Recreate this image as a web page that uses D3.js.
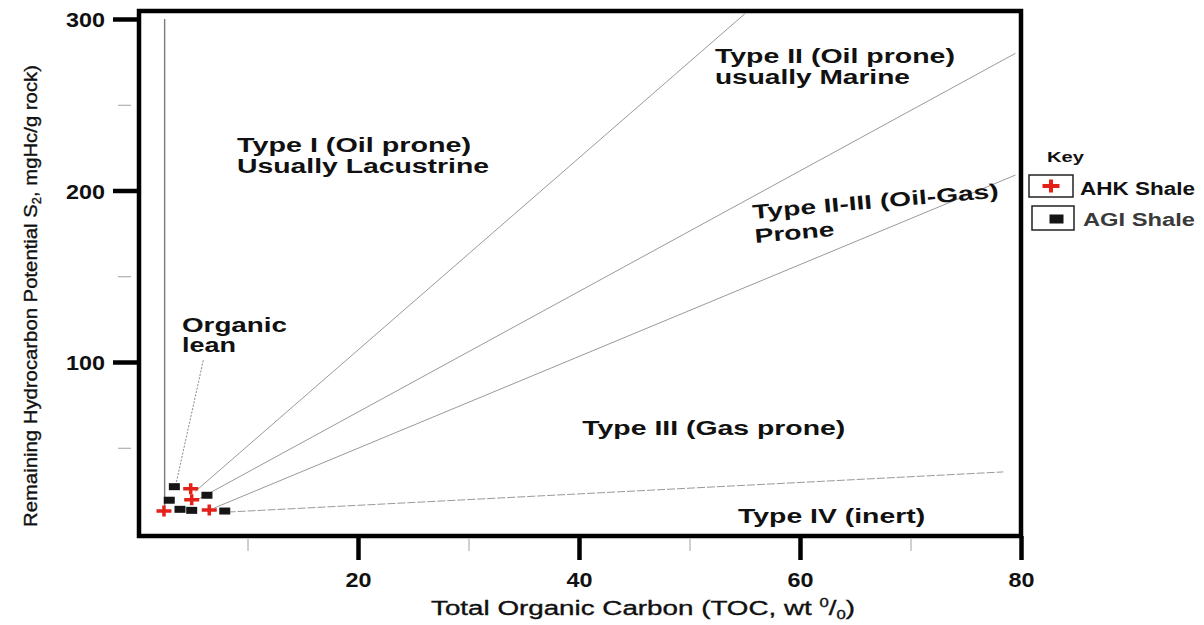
<!DOCTYPE html>
<html>
<head>
<meta charset="utf-8">
<script src="https://cdn.jsdelivr.net/npm/d3@7"></script>
<style>
  body { margin: 0; background: #fff; }
  svg { display: block; }
</style>
</head>
<body>
<svg id="chart" width="1204" height="625"></svg>
<script>
// Sample measurements: total organic carbon (wt %) and S2 (mgHC/g rock)
const ahkToc = [2.44, 4.86, 4.95, 6.54];
const ahkS2  = [13.1, 26.1, 19.7, 13.7];
const agiToc = [2.92, 3.38, 3.89, 4.95, 6.33, 7.94];
const agiS2  = [19.4, 27.3, 14.1, 13.5, 22.3, 13.1];

// Kerogen-type boundaries, each as [start, end] in TOC and S2
const boundaryToc = [[2.5, 2.5], [5.25, 55.0], [5.4, 79.5], [7.0, 79.5], [8.2, 78.4]];
const boundaryS2  = [[16, 300], [24.4, 303], [19.5, 280], [14.9, 209], [12.5, 35.9]];
const leanPointerToc = [6.0, 3.5];
const leanPointerS2  = [101, 28];

const tocTicks = [20, 40, 60, 80];
const tocMinorTicks = [10, 30, 50, 70];
const s2Ticks = [100, 200, 300];
const s2MinorTicks = [50, 150, 250];
const seriesNames = ["AHK Shale", "AGI Shale"];

const FONT = "'Liberation Sans', Arial, Helvetica, sans-serif";
const svg = d3.select("#chart");

const x = d3.scaleLinear().domain([0, 80]).range([137, 1021]);
const y = d3.scaleLinear().domain([0, 300]).range([533.5, 19]);

const frame = { left: 139, top: 11, right: 1021, bottom: 536 };

// --- boundary lines ---
const lineGen = d3.line().x(d => x(d[0])).y(d => y(d[1]));
boundaryToc.forEach((tocs, i) => {
  const pts = tocs.map((t, j) => [t, boundaryS2[i][j]]);
  svg.append("path")
    .attr("d", lineGen(pts))
    .attr("fill", "none")
    .attr("stroke", i === 0 ? "#7a7a7a" : "#9a9a9a")
    .attr("stroke-width", i === 0 ? 1.4 : 1)
    .attr("stroke-dasharray", i === boundaryToc.length - 1 ? "8,2" : null);
});
svg.append("path")
  .attr("d", lineGen(leanPointerToc.map((t, j) => [t, leanPointerS2[j]])))
  .attr("fill", "none")
  .attr("stroke", "#888")
  .attr("stroke-width", 1)
  .attr("stroke-dasharray", "2,1.5");

// --- frame ---
svg.append("rect")
  .attr("x", frame.left).attr("y", frame.top)
  .attr("width", frame.right - frame.left).attr("height", frame.bottom - frame.top)
  .attr("fill", "none").attr("stroke", "#000").attr("stroke-width", 4.5);

// --- axes ---
const yAxis = svg.append("g")
  .attr("transform", `translate(${frame.left},0)`)
  .call(d3.axisLeft(y).tickValues(s2Ticks).tickSize(26).tickPadding(8).tickFormat(d3.format("d")));
yAxis.select(".domain").remove();
yAxis.selectAll(".tick line").attr("stroke", "#000").attr("stroke-width", 4.5);
yAxis.selectAll(".tick text")
  .attr("font-family", FONT).attr("font-size", 21).attr("font-weight", "bold")
  .attr("fill", "#111").attr("dy", "0.38em")
  .attr("textLength", 39).attr("lengthAdjust", "spacingAndGlyphs");

const yMinor = svg.append("g")
  .attr("transform", `translate(131,0)`)
  .call(d3.axisLeft(y).tickValues(s2MinorTicks).tickSize(13).tickFormat(""));
yMinor.select(".domain").remove();
yMinor.selectAll(".tick line").attr("stroke", "#a0a0a0").attr("stroke-width", 1);

const xAxis = svg.append("g")
  .attr("transform", `translate(0,${frame.bottom})`)
  .call(d3.axisBottom(x).tickValues(tocTicks).tickSize(24).tickPadding(12).tickFormat(d3.format("d")));
xAxis.select(".domain").remove();
xAxis.selectAll(".tick line").attr("stroke", "#000").attr("stroke-width", 4.5);
xAxis.selectAll(".tick text")
  .attr("font-family", FONT).attr("font-size", 21).attr("font-weight", "bold")
  .attr("fill", "#111")
  .attr("textLength", 26).attr("lengthAdjust", "spacingAndGlyphs");

const xMinor = svg.append("g")
  .attr("transform", `translate(0,${frame.bottom + 3})`)
  .call(d3.axisBottom(x).tickValues(tocMinorTicks).tickSize(12).tickFormat(""));
xMinor.select(".domain").remove();
xMinor.selectAll(".tick line").attr("stroke", "#a0a0a0").attr("stroke-width", 1);

// --- axis titles ---
const yTitle = svg.append("text")
  .attr("transform", "translate(37,296) rotate(-90)")
  .attr("text-anchor", "middle")
  .attr("font-family", FONT).attr("font-size", 19).attr("fill", "#111")
  .attr("stroke", "#111").attr("stroke-width", 0.35)
  .attr("textLength", 462).attr("lengthAdjust", "spacingAndGlyphs");
yTitle.append("tspan").text("Remaining Hydrocarbon Potential S");
yTitle.append("tspan").attr("font-size", 12).attr("dy", 4).text("2");
yTitle.append("tspan").attr("dy", -4).text(", mgHc/g rock)");

const xTitle = svg.append("text")
  .attr("x", 431).attr("y", 615)
  .attr("font-family", FONT).attr("font-size", 20).attr("fill", "#111")
  .attr("stroke", "#111").attr("stroke-width", 0.35)
  .attr("textLength", 424).attr("lengthAdjust", "spacingAndGlyphs");
xTitle.append("tspan").text("Total Organic Carbon (TOC, wt ");
xTitle.append("tspan").attr("font-size", 12).attr("dy", -8).text("0");
xTitle.append("tspan").attr("dy", 8).text("/");
xTitle.append("tspan").attr("font-size", 12).attr("dy", 4).text("0");
xTitle.append("tspan").attr("dy", -4).text(")");

// --- zone labels ---
const zoneLabels = [
  { lines: ["Type I (Oil prone)", "Usually Lacustrine"], toc: 9.05, s2: 222.4, widths: [234, 252], gap: 21 },
  { lines: ["Type II (Oil prone)", "usually Marine"], toc: 52.3, s2: 274.3, widths: [240, 195], gap: 21 },
  { lines: ["Type II-III (Oil-Gas)", "Prone"], toc: 55.75, s2: 183.4, widths: [247, 80], gap: 24, rotate: -5 },
  { lines: ["Type III (Gas prone)"], toc: 40.3, s2: 57.4, widths: [263] },
  { lines: ["Type IV (inert)"], toc: 54.4, s2: 6.1, widths: [187] },
  { lines: ["Organic", "lean"], toc: 4.07, s2: 117.5, widths: [105, 54], gap: 20 }
];
zoneLabels.forEach(l => {
  const g = svg.append("g")
    .attr("transform", `translate(${x(l.toc)},${y(l.s2)}) rotate(${l.rotate || 0})`);
  l.lines.forEach((txt, i) => {
    g.append("text")
      .attr("x", 0).attr("y", i * (l.gap || 0))
      .attr("font-family", FONT).attr("font-size", 20).attr("font-weight", "bold")
      .attr("fill", "#111")
      .attr("textLength", l.widths[i]).attr("lengthAdjust", "spacingAndGlyphs")
      .text(txt);
  });
});

// --- markers ---
const crossPath = (w, h) => `M${-w / 2},0H${w / 2}M0,${-h / 2}V${h / 2}`;

svg.append("g").selectAll("rect")
  .data(d3.range(agiToc.length))
  .join("rect")
  .attr("x", i => x(agiToc[i]) - 5.5)
  .attr("y", i => y(agiS2[i]) - 3.5)
  .attr("width", 11).attr("height", 7)
  .attr("fill", "#151515");

svg.append("g").selectAll("path")
  .data(d3.range(ahkToc.length))
  .join("path")
  .attr("transform", i => `translate(${x(ahkToc[i])},${y(ahkS2[i])})`)
  .attr("d", crossPath(15, 11))
  .attr("stroke", "#e32119").attr("stroke-width", 3.5).attr("fill", "none");

// --- legend ---
const legend = svg.append("g");
legend.append("text")
  .attr("x", 1047).attr("y", 162)
  .attr("font-family", FONT).attr("font-size", 15).attr("font-weight", "bold").attr("fill", "#111")
  .attr("textLength", 37).attr("lengthAdjust", "spacingAndGlyphs")
  .text("Key");

legend.append("rect")
  .attr("x", 1029).attr("y", 175).attr("width", 44).attr("height", 22)
  .attr("fill", "#fff").attr("stroke", "#222").attr("stroke-width", 1.5);
legend.append("path")
  .attr("transform", "translate(1051,186)")
  .attr("d", crossPath(17, 13))
  .attr("stroke", "#e32119").attr("stroke-width", 4).attr("fill", "none");
legend.append("text")
  .attr("x", 1080).attr("y", 195)
  .attr("font-family", FONT).attr("font-size", 18).attr("font-weight", "bold").attr("fill", "#111")
  .attr("textLength", 115).attr("lengthAdjust", "spacingAndGlyphs")
  .text(seriesNames[0]);

legend.append("rect")
  .attr("x", 1032).attr("y", 206).attr("width", 42).attr("height", 24)
  .attr("fill", "#fff").attr("stroke", "#222").attr("stroke-width", 1.5);
legend.append("rect")
  .attr("x", 1049.5).attr("y", 214.5).attr("width", 14).attr("height", 9)
  .attr("fill", "#151515");
legend.append("text")
  .attr("x", 1083).attr("y", 226)
  .attr("font-family", FONT).attr("font-size", 18).attr("font-weight", "bold").attr("fill", "#3a3a3a")
  .attr("textLength", 112).attr("lengthAdjust", "spacingAndGlyphs")
  .text(seriesNames[1]);
</script>
</body>
</html>
